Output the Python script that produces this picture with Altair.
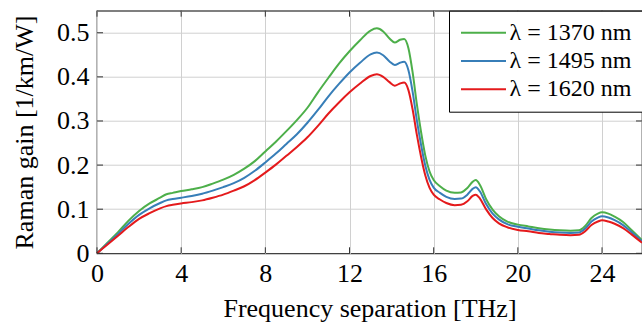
import altair as alt
import pandas as pd

# ---------------- data ----------------
freq = [0, 0.5, 1.0, 1.5, 2.0, 2.5, 3.0, 3.3, 3.6, 4.0, 4.5, 5.0, 5.5, 6.0, 6.5, 7.0,
        7.5, 8.0, 8.5, 9.0, 9.5, 10.0, 10.5, 11.0, 11.5, 12.0, 12.5, 13.0, 13.3, 13.6,
        13.9, 14.15, 14.4, 14.6, 14.8, 15.0, 15.2, 15.4, 15.6, 15.8, 16.0, 16.3, 16.6,
        17.0, 17.3, 17.6, 17.85, 18.0, 18.2, 18.5, 18.8, 19.1, 19.5, 20.0, 20.5, 21.0,
        21.5, 22.0, 22.5, 22.9, 23.2, 23.5, 23.8, 24.0, 24.3, 24.6, 25.0, 25.4, 25.9]

gain_1370 = [0, 0.024, 0.048, 0.074, 0.096, 0.113, 0.126, 0.134, 0.137, 0.141, 0.145,
             0.150, 0.158, 0.167, 0.178, 0.192, 0.209, 0.231, 0.253, 0.277, 0.302, 0.330,
             0.365, 0.398, 0.430, 0.458, 0.483, 0.505, 0.510, 0.503, 0.487, 0.478, 0.484,
             0.486, 0.465, 0.410, 0.338, 0.275, 0.222, 0.186, 0.166, 0.152, 0.142, 0.137,
             0.138, 0.148, 0.162, 0.166, 0.155, 0.122, 0.099, 0.084, 0.072, 0.065, 0.061,
             0.057, 0.054, 0.052, 0.051, 0.052, 0.062, 0.080, 0.090, 0.093, 0.090, 0.083,
             0.071, 0.053, 0.030]

gain_1495 = [0, 0.022, 0.044, 0.067, 0.087, 0.102, 0.114, 0.120, 0.123, 0.126, 0.130,
             0.135, 0.142, 0.150, 0.159, 0.171, 0.187, 0.206, 0.226, 0.248, 0.270, 0.296,
             0.325, 0.356, 0.384, 0.410, 0.432, 0.451, 0.455, 0.449, 0.435, 0.427, 0.432,
             0.434, 0.415, 0.366, 0.302, 0.246, 0.199, 0.167, 0.149, 0.137, 0.128, 0.123,
             0.124, 0.133, 0.146, 0.150, 0.140, 0.111, 0.090, 0.077, 0.066, 0.060, 0.056,
             0.052, 0.049, 0.047, 0.046, 0.047, 0.056, 0.072, 0.081, 0.084, 0.081, 0.075,
             0.064, 0.048, 0.027]

gain_1620 = [0, 0.020, 0.040, 0.060, 0.078, 0.091, 0.102, 0.107, 0.110, 0.113, 0.116,
             0.120, 0.126, 0.133, 0.142, 0.152, 0.166, 0.183, 0.201, 0.221, 0.241, 0.263,
             0.289, 0.317, 0.342, 0.365, 0.385, 0.402, 0.406, 0.400, 0.388, 0.380, 0.385,
             0.387, 0.370, 0.326, 0.269, 0.219, 0.177, 0.149, 0.133, 0.122, 0.114, 0.109,
             0.110, 0.118, 0.130, 0.133, 0.124, 0.099, 0.080, 0.068, 0.059, 0.053, 0.050,
             0.046, 0.044, 0.042, 0.041, 0.042, 0.050, 0.064, 0.072, 0.075, 0.072, 0.067,
             0.057, 0.043, 0.024]

series_labels = ["λ = 1370 nm", "λ = 1495 nm", "λ = 1620 nm"]
series_colors = ["#4daf4a", "#377eb8", "#e41a1c"]
x_ticks = [0, 4, 8, 12, 16, 20, 24]
y_ticks = [0, 0.1, 0.2, 0.3, 0.4, 0.5]

rows = []
for lab, vals in zip(series_labels, [gain_1370, gain_1495, gain_1620]):
    for f, v in zip(freq, vals):
        rows.append({"f": f, "g": v, "s": lab})
df = pd.DataFrame(rows)
xt = pd.DataFrame({"f": x_ticks})
yt = pd.DataFrame({"g": y_ticks})

# ---------------- chart ----------------
W = 545
H = 242.6
FONT = "Liberation Serif"
xs = alt.Scale(domain=[0, 25.9], nice=False, zero=False)
ys = alt.Scale(domain=[0, 0.55], nice=False)
TICK = "#333333"
TL = 6

x_axis = alt.Axis(values=x_ticks, title="Frequency separation [THz]",
                  format="d", titleX=W / 2, titleY=63.5,
                  titleBaseline="alphabetic", titleAlign="center",
                  labelPadding=7, labelFlush=False, labelFont=FONT, labelFontSize=26,
                  titleFont=FONT, titleFontSize=26)
y_axis = alt.Axis(values=y_ticks, title="Raman gain [1/km/W]",
                  format=".1~f", titleX=-65, titleY=H / 2,
                  titleAngle=270, titleBaseline="alphabetic",
                  titleAlign="center", labelPadding=8, labelFlush=False,
                  labelFont=FONT, labelFontSize=26, titleFont=FONT, titleFontSize=26)

X = alt.X("f:Q", scale=xs, axis=x_axis)
Y = alt.Y("g:Q", scale=ys, axis=y_axis)

bottom_ticks = alt.Chart(xt).mark_rule(color=TICK, strokeWidth=1).encode(
    x=X, y=alt.value(H), y2=alt.value(H - TL))
top_ticks = alt.Chart(xt).mark_rule(color=TICK, strokeWidth=1).encode(
    x=X, y=alt.value(0), y2=alt.value(TL))
left_ticks = alt.Chart(yt).mark_rule(color=TICK, strokeWidth=1).encode(
    y=Y, x=alt.value(0), x2=alt.value(TL))
right_ticks = alt.Chart(yt).mark_rule(color=TICK, strokeWidth=1).encode(
    y=Y, x=alt.value(W - TL), x2=alt.value(W))

lines = alt.Chart(df).mark_line(strokeWidth=2, interpolate="monotone").encode(
    x=X,
    y=Y,
    color=alt.Color("s:N", scale=alt.Scale(domain=series_labels, range=series_colors),
                    legend=alt.Legend(title=None, orient="none", legendX=352, legendY=0,
                                      strokeColor="black", fillColor="white",
                                      padding=10, symbolType="M-2.5,0H2.5",
                                      symbolSize=324, symbolStrokeWidth=2,
                                      symbolOffset=12.5, labelOffset=14,
                                      rowPadding=4.3, labelFont=FONT, labelFontSize=24,
                                      labelColor="black")),
)

chart = alt.layer(lines, bottom_ticks, top_ticks, left_ticks, right_ticks).properties(
    width=W, height=H,
    autosize=alt.AutoSizeParams(type="none"),
    padding={"left": 97, "top": 10.7, "right": 0, "bottom": 68.7},
).configure(font=FONT).configure_view(stroke="black", strokeWidth=1.2).configure_axis(
    grid=True, gridColor="#d0d0d0", gridWidth=1, domain=False, ticks=False,
    labelColor="black", titleColor="black", titleFontWeight="normal",
)

chart.save("out.html", embed_options={"renderer": "svg", "actions": False})
